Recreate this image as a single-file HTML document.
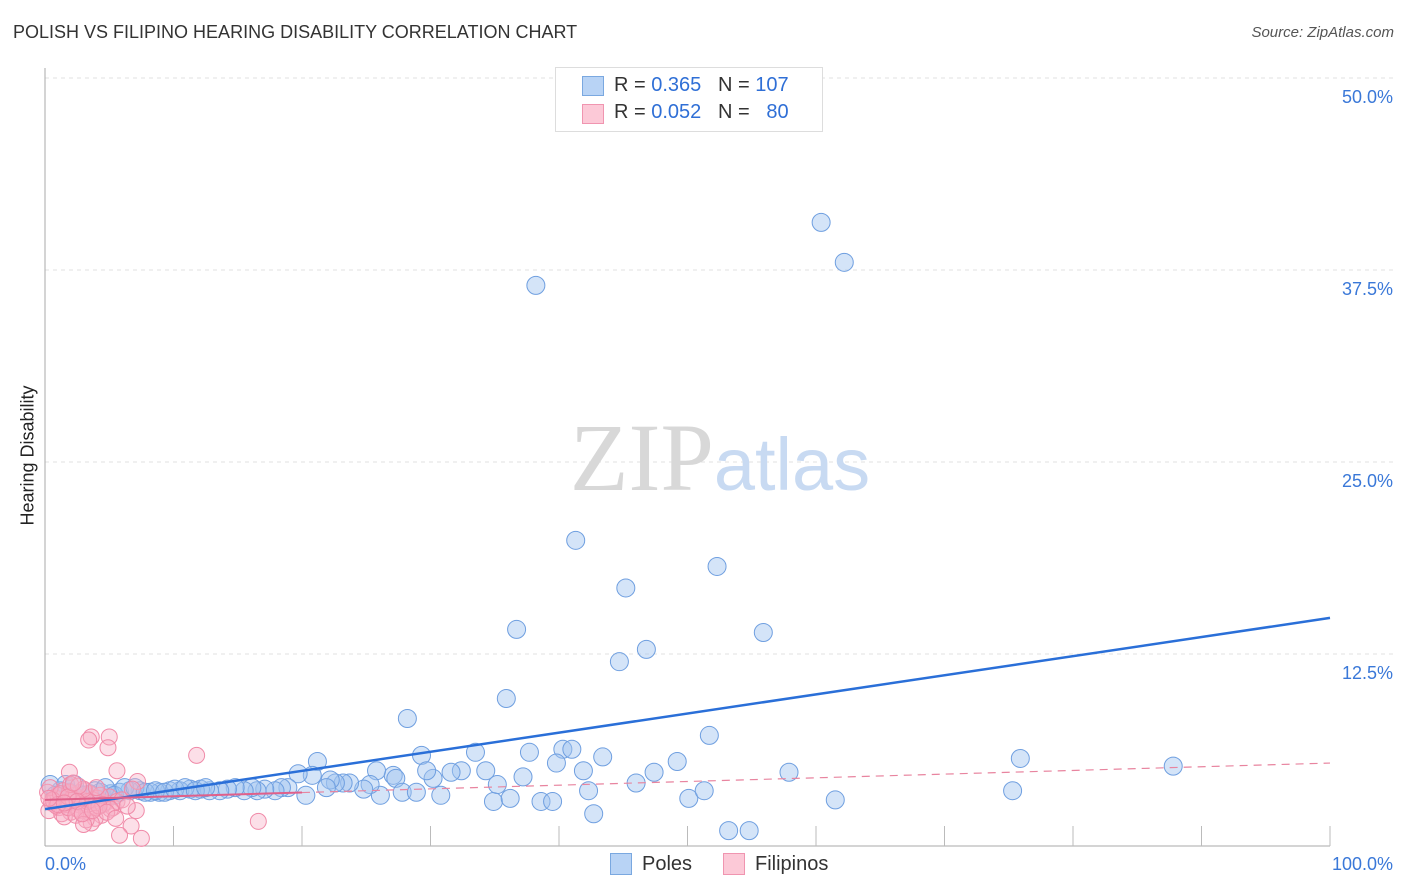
<!DOCTYPE html>
<html><head><meta charset="utf-8"><style>
body{margin:0;background:#fff;font-family:"Liberation Sans",sans-serif;}
#wrap{position:relative;width:1406px;height:892px;overflow:hidden;}
.t{position:absolute;white-space:nowrap;}
</style></head><body>
<div id="wrap">
<div class="t" style="left:13px;top:22px;font-size:18px;color:#333;">POLISH VS FILIPINO HEARING DISABILITY CORRELATION CHART</div>
<div class="t" style="right:12px;top:24px;font-size:15px;color:#555;font-style:italic;">Source: ZipAtlas.com</div>
<div class="t" style="left:-42px;top:445px;font-size:18px;color:#222;transform:rotate(-90deg);">Hearing Disability</div>
<svg id="svg" width="1406" height="892" style="position:absolute;left:0;top:0"></svg>
<div style="position:absolute;left:555px;top:67px;width:266px;height:63px;border:1px solid #ddd;background:#fff;font-size:20px;">
 <div style="position:absolute;left:26px;top:8px;width:20px;height:18px;background:#b8d3f5;border:1px solid #7aa8e0"></div>
 <div class="t" style="left:58px;top:6px;color:#333">R = <span style="color:#2f6fd6">0.365</span>&nbsp;&nbsp;&nbsp;N = <span style="color:#2f6fd6">107</span></div>
 <div style="position:absolute;left:26px;top:36px;width:20px;height:18px;background:#fcc9d7;border:1px solid #f095b0"></div>
 <div class="t" style="left:58px;top:33px;color:#333">R = <span style="color:#2f6fd6">0.052</span>&nbsp;&nbsp;&nbsp;N = &nbsp;&nbsp;<span style="color:#2f6fd6">80</span></div>
</div>
<div>
 <div style="position:absolute;left:610px;top:853px;width:20px;height:20px;background:#b8d3f5;border:1px solid #7aa8e0"></div>
 <div class="t" style="left:642px;top:853px;font-size:20px;color:#333">Poles</div>
 <div style="position:absolute;left:723px;top:853px;width:20px;height:20px;background:#fcc9d7;border:1px solid #f095b0"></div>
 <div class="t" style="left:755px;top:853px;font-size:20px;color:#333">Filipinos</div>
</div>
</div>
<script>
const yTicks=[12.5,25,37.5,50];
const yTickLabels=["12.5%","25.0%","37.5%","50.0%"];
const xTicks=[0,10,20,30,40,50,60,70,80,90,100];
const polesX=[60.4,62.2,38.2,41.3,52.3,45.2,36.7,55.9,46.8,44.7,35.9,28.2,51.7,75.9,87.8,21.2,29.3,33.5,37.7,40.3,41.0,43.4,39.8,41.9,47.4,49.2,57.9,61.5,75.3,50.1,51.3,42.7,53.2,54.8,46.0,42.3,37.2,38.6,39.5,34.9,36.2,35.2,34.3,32.4,31.6,30.8,30.2,29.7,27.1,27.3,27.8,28.9,26.1,25.8,25.3,24.8,23.7,23.2,22.6,22.2,21.9,20.8,20.3,19.7,18.9,18.4,17.9,17.1,16.5,16.1,15.5,14.8,14.2,13.6,12.8,12.1,11.3,10.5,9.7,8.9,8.2,7.4,6.6,5.8,5.1,4.3,3.5,2.7,1.9,1.2,0.4,0.8,1.6,2.3,3.1,3.9,4.7,5.4,6.2,7.0,7.8,8.6,9.3,10.1,10.9,11.7,12.5];
const polesY=[40.6,38.0,36.5,19.9,18.2,16.8,14.1,13.9,12.8,12.0,9.6,8.3,7.2,5.7,5.2,5.5,5.9,6.1,6.1,6.3,6.3,5.8,5.4,4.9,4.8,5.5,4.8,3.0,3.6,3.1,3.6,2.1,1.0,1.0,4.1,3.6,4.5,2.9,2.9,2.9,3.1,4.0,4.9,4.9,4.8,3.3,4.4,4.9,4.6,4.4,3.5,3.5,3.3,4.9,4.0,3.7,4.1,4.1,4.1,4.3,3.8,4.6,3.3,4.7,3.8,3.8,3.6,3.7,3.6,3.8,3.6,3.8,3.7,3.6,3.6,3.7,3.7,3.6,3.6,3.5,3.5,3.6,3.6,3.5,3.4,3.5,3.4,3.4,3.5,3.6,4.0,3.3,4.0,4.0,3.3,3.6,3.8,3.3,3.8,3.8,3.5,3.6,3.5,3.7,3.8,3.6,3.8];
const filX=[3.6,5.0,3.4,4.9,11.8,5.6,16.6,6.7,5.8,7.5,1.9,7.1,7.2,0.2,0.5,0.8,1.1,1.4,1.7,2.0,2.3,2.6,2.9,3.2,3.5,3.8,4.1,4.4,4.7,5.0,5.3,5.6,6.0,6.4,0.3,0.7,1.0,1.3,1.6,1.9,2.2,2.5,2.8,3.1,3.4,3.7,4.0,4.3,0.4,0.9,1.5,2.1,2.7,3.3,3.9,4.5,5.1,0.6,1.2,1.8,2.4,3.0,3.6,4.2,2.0,2.6,3.2,4.0,4.8,5.5,1.0,1.8,2.5,3.0,0.3,1.5,2.2,2.9,3.7,6.8];
const filY=[7.1,7.1,6.9,6.4,5.9,4.9,1.6,1.3,0.7,0.5,4.8,2.3,4.2,3.5,2.8,3.1,2.5,3.6,2.9,2.2,3.3,2.7,3.0,2.4,3.4,2.6,3.1,2.0,2.8,3.2,2.5,2.9,3.0,2.6,2.3,2.9,3.3,2.1,2.7,3.5,3.0,2.4,2.8,3.6,2.2,3.0,2.5,3.3,3.8,2.6,1.9,3.1,2.3,2.9,1.8,2.7,2.4,3.0,3.4,2.5,2.0,3.7,1.5,2.6,4.0,3.9,1.7,3.8,2.2,1.8,2.7,3.2,2.9,1.4,3.1,2.8,4.1,2.1,2.3,3.7];
const polesTrend=[2.4,14.85];
const filTrend=[3.0,5.4];
const X=v=>45+v*12.85, Y=v=>846-v*15.36;
const svg=document.getElementById('svg');const NS='http://www.w3.org/2000/svg';
function mk(t,a,p){const e=document.createElementNS(NS,t);for(const k in a)e.setAttribute(k,a[k]);(p||svg).appendChild(e);return e;}
yTicks.forEach((v,i)=>{
 const g=mk('line',{x1:45,x2:1395,y1:Y(v),y2:Y(v),stroke:'#e2e2e2','stroke-dasharray':'4,4'});
 
 
 const t=mk('text',{x:1393,y:Y(v)+25,'text-anchor':'end','font-size':18,fill:'#3a78d8','font-family':'Liberation Sans'});t.textContent=yTickLabels[i];
 
 
});
const ax=mk('line',{x1:45,x2:1330,y1:846,y2:846,stroke:'#aaa'});


const ay=mk('line',{x1:45,x2:45,y1:68,y2:846,stroke:'#aaa'});


xTicks.slice(1).forEach(v=>{const l=mk('line',{x1:X(v),x2:X(v),y1:826,y2:846,stroke:'#bbb'});
 
 });
[[0,'0.0%',45,'start'],[100,'100.0%',1393,'end']].forEach(a=>{const t=mk('text',{x:a[2],y:870,'text-anchor':a[3],'font-size':18,fill:'#3a78d8','font-family':'Liberation Sans'});t.textContent=a[1];
 
 });
const wm=mk('text',{x:720,y:490,'text-anchor':'middle','font-size':96,'font-family':'Liberation Serif',fill:'#d8d8d8'});
wm.innerHTML='ZIP<tspan font-family="Liberation Sans" font-size="74" fill="#c8daf2">atlas</tspan>';


polesX.forEach((v,i)=>{const c=mk('circle',{cx:X(v),cy:Y(polesY[i]),r:9,fill:'rgba(160,196,240,0.45)',stroke:'#6f9fe0','stroke-width':1});
 
 });
filX.forEach((v,i)=>{const c=mk('circle',{cx:X(v),cy:Y(filY[i]),r:8,fill:'rgba(248,176,198,0.4)',stroke:'#f08aa8','stroke-width':1});
 
 });
const pl=mk('line',{x1:X(0),y1:Y(polesTrend[0]),x2:X(100),y2:Y(polesTrend[1]),stroke:'#2a6fd8','stroke-width':2.5});


const fs=mk('line',{x1:X(0),y1:Y(filTrend[0]),x2:X(20),y2:Y(filTrend[0]+(filTrend[1]-filTrend[0])*0.2),stroke:'#e0608a','stroke-width':2});


const fd=mk('line',{x1:X(20),y1:Y(filTrend[0]+(filTrend[1]-filTrend[0])*0.2),x2:X(100),y2:Y(filTrend[1]),stroke:'#e8849f','stroke-width':1.2,'stroke-dasharray':'8,6'});


</script>
</body></html>
